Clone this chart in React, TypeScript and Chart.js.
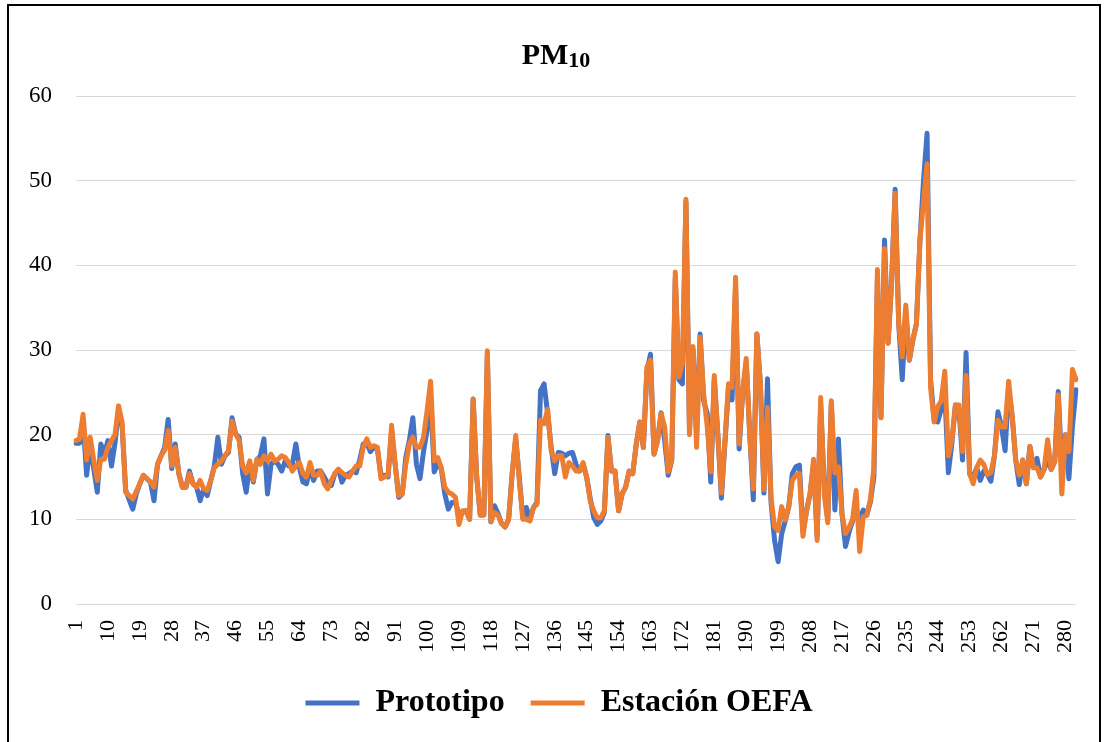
import React, { useEffect, useRef } from 'react';
import { Chart, registerables } from 'chart.js';

Chart.register(...registerables);

// Category indices (days) 1..283
const categories: string[] = [];
for (let i = 1; i <= 283; i++) categories.push(String(i));

// Tick labels shown on the x axis
const tickLabels: string[] = ['1', '10', '19', '28', '37', '46', '55', '64', '73', '82', '91', '100', '109', '118', '127', '136', '145', '154', '163', '172', '181', '190', '199', '208', '217', '226', '235', '244', '253', '262', '271', '280'];

const yTicks: number[] = [0, 10, 20, 30, 40, 50, 60];

const seriesNames: string[] = ['Prototipo', 'Estación OEFA'];

const prototipo: number[] = [
  19.0, 19.0, 21.5, 15.2, 18.9, 16.0, 13.2, 18.9, 17.7, 19.3,
  16.3, 19.0, 23.0, 21.0, 13.5, 12.3, 11.2, 13.0, 14.2, 15.2,
  14.8, 14.4, 12.2, 16.5, 17.5, 18.5, 21.8, 16.0, 18.9, 15.4,
  13.8, 13.8, 15.7, 14.2, 13.8, 12.2, 13.6, 12.8, 14.6, 16.3,
  19.7, 16.5, 17.5, 17.9, 22.0, 20.1, 19.7, 15.4, 13.2, 16.5,
  14.4, 17.0, 17.5, 19.5, 13.0, 16.5, 16.9, 16.5, 15.7, 16.9,
  16.3, 16.5, 18.9, 16.1, 14.4, 14.2, 16.1, 14.6, 15.7, 15.7,
  15.0, 14.2, 14.0, 15.4, 15.9, 14.4, 15.2, 15.4, 15.7, 15.5,
  17.0, 18.9, 19.0, 18.0, 18.5, 18.3, 15.2, 15.2, 15.0, 20.5,
  16.5, 12.6, 13.0, 17.3, 19.3, 22.0, 16.5, 14.8, 18.0, 20.5,
  24.5, 15.6, 16.5, 16.0, 13.0, 11.2, 12.0, 12.0, 10.6, 10.8,
  11.0, 10.0, 24.2, 15.0, 10.5, 10.5, 29.5, 9.7, 11.6, 10.7,
  9.5, 9.1, 10.0, 15.4, 19.5, 15.0, 10.2, 11.4, 9.9, 11.4,
  12.0, 25.2, 26.0, 22.5, 18.5, 15.4, 17.9, 17.8, 17.5, 17.8,
  17.9, 16.5, 15.7, 16.5, 15.0, 12.5, 10.2, 9.4, 9.8, 10.8,
  19.9, 15.7, 15.7, 11.0, 13.0, 13.8, 15.7, 15.4, 18.9, 21.5,
  18.5, 27.5, 29.5, 17.7, 19.3, 22.6, 19.3, 15.2, 17.0, 38.5,
  26.5, 26.0, 47.5, 20.5, 30.0, 20.0, 31.9, 24.0, 22.5, 14.4,
  26.5, 20.0, 12.5, 19.0, 25.5, 24.1, 37.5, 18.3, 25.0, 28.5,
  20.0, 12.3, 31.9, 26.0, 13.1, 26.6, 12.0, 7.5, 5.0, 8.3,
  9.8, 11.5, 15.4, 16.2, 16.4, 8.5, 11.0, 13.0, 16.5, 8.0,
  23.5, 14.0, 10.0, 23.7, 11.1, 19.5, 10.7, 6.8, 8.5, 9.8,
  11.0, 10.0, 11.1, 10.5, 12.0, 15.0, 38.5, 22.0, 43.0, 30.8,
  38.0, 49.0, 33.1, 26.5, 34.5, 28.8, 31.2, 33.1, 43.0, 50.0,
  55.6, 26.5, 21.7, 21.5, 23.0, 25.0, 15.5, 19.0, 23.5, 23.0,
  17.0, 29.7, 15.4, 15.0, 16.1, 14.6, 15.7, 15.3, 14.5, 17.5,
  22.7, 20.9, 18.1, 25.3, 22.2, 17.0, 14.1, 17.0, 14.2, 18.6,
  16.1, 17.2, 15.0, 15.9, 17.0, 15.9, 16.8, 25.1, 16.0, 20.0,
  14.8, 21.0, 25.3,
];

const estacionOefa: number[] = [
  19.3, 19.5, 22.4, 17.0, 19.7, 17.0, 14.6, 17.1, 17.1, 18.5,
  19.3, 20.0, 23.4, 21.5, 13.2, 12.8, 12.4, 13.3, 14.2, 15.2,
  14.8, 14.4, 13.8, 16.5, 17.5, 18.2, 20.5, 16.3, 18.5, 15.4,
  13.8, 13.8, 15.4, 14.2, 13.8, 14.6, 13.6, 13.4, 14.6, 16.1,
  16.5, 16.9, 17.5, 18.1, 21.6, 20.1, 19.3, 16.3, 15.5, 16.9,
  14.6, 17.1, 16.5, 17.5, 16.9, 17.7, 16.9, 17.1, 17.5, 17.3,
  16.7, 15.7, 16.3, 16.7, 15.4, 15.0, 16.7, 15.2, 15.2, 15.7,
  14.2, 13.6, 14.6, 15.4, 15.9, 15.5, 15.2, 15.0, 15.7, 16.3,
  16.3, 18.5, 19.5, 18.5, 18.7, 18.5, 14.8, 15.0, 15.2, 21.1,
  16.5, 12.8, 13.0, 16.5, 18.9, 19.7, 18.5, 18.5, 19.7, 22.8,
  26.3, 16.9, 17.3, 16.1, 13.8, 13.2, 13.0, 12.6, 9.4, 11.0,
  11.0, 10.0, 24.2, 15.0, 10.5, 10.5, 29.9, 9.7, 10.8, 10.5,
  9.5, 9.1, 10.0, 15.4, 19.9, 14.6, 10.0, 10.0, 9.8, 11.4,
  11.8, 21.7, 21.3, 23.0, 18.1, 16.9, 17.5, 17.5, 15.0, 16.7,
  16.3, 15.7, 15.7, 16.7, 15.0, 12.2, 11.0, 10.2, 10.2, 11.0,
  19.7, 15.7, 15.7, 11.0, 13.0, 13.8, 15.7, 15.4, 18.9, 21.5,
  18.5, 28.0, 28.8, 17.7, 19.3, 22.5, 20.9, 15.6, 17.0, 39.2,
  26.8, 28.4, 47.8, 20.0, 30.4, 18.5, 31.5, 24.8, 21.0, 15.6,
  27.0, 20.0, 13.1, 19.3, 26.0, 25.6, 38.6, 18.9, 25.1, 29.0,
  20.0, 13.6, 31.9, 26.0, 13.5, 23.2, 12.5, 9.1, 8.7, 11.5,
  9.9, 11.5, 14.6, 15.2, 15.4, 8.0, 11.0, 13.0, 17.1, 7.5,
  24.4, 13.0, 9.6, 24.0, 15.5, 16.2, 10.7, 8.3, 9.0, 10.0,
  13.4, 6.2, 10.3, 10.5, 12.3, 16.0, 39.5, 22.0, 42.0, 30.8,
  38.0, 48.5, 33.1, 29.2, 35.3, 28.8, 31.2, 33.1, 43.0, 47.5,
  52.0, 25.5, 21.5, 23.3, 24.0, 27.5, 17.5, 19.4, 23.5, 23.5,
  18.0, 27.0, 15.4, 14.2, 16.1, 17.0, 16.5, 15.3, 15.5, 17.5,
  21.7, 20.9, 20.9, 26.3, 22.2, 17.0, 15.2, 17.0, 14.2, 18.6,
  16.1, 16.1, 15.0, 15.9, 19.4, 15.9, 16.8, 24.7, 13.0, 20.0,
  18.0, 27.7, 26.5,
];

const SERIF = '"Liberation Serif", "Times New Roman", serif';

const titlePlugin = {
  id: 'pmTitle',
  afterDraw(chart: any) {
    const ctx = chart.ctx as CanvasRenderingContext2D;
    ctx.save();
    ctx.fillStyle = '#000';
    ctx.textBaseline = 'alphabetic';
    ctx.textAlign = 'left';
    ctx.font = `bold 30px ${SERIF}`;
    const main = 'PM';
    const w1 = ctx.measureText(main).width;
    ctx.font = `bold 22px ${SERIF}`;
    const sub = '10';
    const w2 = ctx.measureText(sub).width;
    const cx = chart.width / 2 + 4;
    const x0 = cx - (w1 + w2) / 2;
    ctx.font = `bold 30px ${SERIF}`;
    ctx.fillText(main, x0, 64);
    ctx.font = `bold 22px ${SERIF}`;
    ctx.fillText(sub, x0 + w1, 67);
    ctx.restore();
  },
};

// Nudges the bottom legend into the reference position
const legendPlacePlugin = {
  id: 'legendPlace',
  afterLayout(chart: any) {
    const lg = chart.legend;
    if (!lg) return;
    const dx = 21;
    const dy = 1;
    lg.left += dx; lg.right += dx;
    lg.top += dy; lg.bottom += dy;
  },
};

export default function App() {
  const canvasRef = useRef<HTMLCanvasElement | null>(null);

  useEffect(() => {
    if (!canvasRef.current) return;
    const chart = new Chart(canvasRef.current, {
      type: 'line',
      data: {
        labels: categories,
        datasets: [
          {
            label: seriesNames[0],
            data: prototipo,
            borderColor: '#4472C4',
            backgroundColor: '#4472C4',
            borderWidth: 5,
            pointRadius: 0,
            tension: 0,
            borderJoinStyle: 'round',
            borderCapStyle: 'round',
            order: 1,
          },
          {
            label: seriesNames[1],
            data: estacionOefa,
            borderColor: '#ED7D31',
            backgroundColor: '#ED7D31',
            borderWidth: 5,
            pointRadius: 0,
            tension: 0,
            borderJoinStyle: 'round',
            borderCapStyle: 'round',
            order: 0,
          },
        ],
      },
      options: {
        responsive: false,
        animation: false,
        devicePixelRatio: 1,
        layout: { padding: { top: 96, left: 0, right: 28, bottom: 14 } },
        plugins: {
          title: { display: false },
          tooltip: { enabled: false },
          legend: {
            display: true,
            position: 'bottom',
            fullSize: true,
            labels: {
              usePointStyle: true,
              pointStyle: 'line',
              pointStyleWidth: 54,
              padding: 26,
              color: '#000',
              font: { family: SERIF, size: 32, weight: 'bold' },
              sort: (a: any, b: any) => a.datasetIndex - b.datasetIndex,
            },
          },
        },
        scales: {
          x: {
            type: 'category',
            offset: false,
            grid: { display: false, drawTicks: false },
            border: { display: false },
            afterFit: (scale: any) => {
              scale.height = 56;
              scale.paddingLeft = 0;
              scale.paddingRight = 0;
            },
            ticks: {
              autoSkip: false,
              minRotation: 90,
              maxRotation: 90,
              padding: 16,
              color: '#000',
              font: { family: SERIF, size: 22 },
              callback: function (this: any, value: any, index: number) {
                const lbl = categories[index];
                return tickLabels.includes(lbl) ? lbl : '';
              },
            },
          },
          y: {
            min: yTicks[0],
            max: yTicks[yTicks.length - 1],
            afterFit: (scale: any) => { scale.width = 76; },
            grid: { color: '#D9D9D9', lineWidth: 1, drawTicks: false },
            border: { display: false },
            ticks: {
              stepSize: 10,
              padding: 24,
              color: '#000',
              font: { family: SERIF, size: 23 },
            },
          },
        },
      },
      plugins: [titlePlugin, legendPlacePlugin],
    } as any);
    return () => chart.destroy();
  }, []);

  return (
    <div style={{ position: 'absolute', left: 0, top: 0, width: 1104, height: 742, overflow: 'hidden', background: '#fff' }}>
      <div style={{ position: 'absolute', left: 7, top: 4, width: 1094, height: 800, border: '2px solid #000', boxSizing: 'border-box' }} />
      <canvas ref={canvasRef} width={1104} height={742} style={{ position: 'absolute', left: 0, top: 0, width: 1104, height: 742 }} />
    </div>
  );
}
